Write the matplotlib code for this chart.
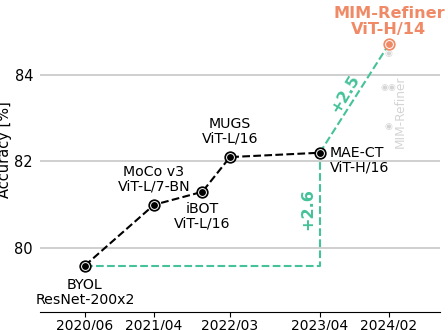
import numpy as np
import matplotlib.pyplot as plt

# --- data ---
methods = ["BYOL\nResNet-200x2", "MoCo v3\nViT-L/7-BN", "iBOT\nViT-L/16",
           "MUGS\nViT-L/16", "MAE-CT\nViT-H/16"]
dates = np.array(["2020-06", "2021-04", "2021-11", "2022-03", "2023-04"], dtype="datetime64[M]")
acc = [79.6, 81.0, 81.3, 82.1, 82.2]

ours_label = "MIM-Refiner\nViT-H/14"
ours_date = np.datetime64("2024-02", "M")
ours_acc = 84.7

tick_dates = np.array(["2020-06", "2021-04", "2022-03", "2023-04", "2024-02"], dtype="datetime64[M]")
tick_labels = ["2020/06", "2021/04", "2022/03", "2023/04", "2024/02"]

green = "#45c29a"
orange = "#f08a66"

# months since 2020-01 as x
base = np.datetime64("2020-01", "M")
x = (dates - base).astype(int)
x_ours = int((ours_date - base).astype(int))
x_ticks = (tick_dates - base).astype(int)

fig = plt.figure(figsize=(4.48, 3.3), dpi=100)
ax = fig.add_axes([40 / 448, 1 - 312 / 330, 400 / 448, 312 / 330])

ax.set_ylim(78.53, 85.72)
ax.set_xlim(x[0] - 6.5, x[0] + 51.4)
ax.set_yticks([80, 82, 84])
ax.grid(axis="y", color="#cccccc", linewidth=1.3)
ax.set_axisbelow(True)
for s in ["left", "right", "top"]:
    ax.spines[s].set_visible(False)
ax.tick_params(axis="y", length=0, labelsize=10.5, pad=5)
ax.tick_params(axis="x", length=3.5, pad=1.5)
ax.set_xticks(x_ticks)
ax.set_xticklabels(tick_labels, fontsize=10)
ax.set_ylabel("Accuracy [%]", fontsize=10.5, labelpad=3)
ax.yaxis.set_label_coords(-0.07, 0.52)

# green improvement lines
ax.plot([x[0], x[-1], x[-1]], [acc[0], acc[0], acc[-1]], color=green, ls="--", lw=1.5, zorder=2)
ax.plot([x[-1], x_ours], [acc[-1], ours_acc], color=green, ls="--", lw=1.5, zorder=2)

# black line of prior methods
ax.plot(x, acc, color="black", ls="--", lw=1.5, zorder=3)
ax.scatter(x, acc, s=62, color="black", zorder=4)
ax.scatter(x, acc, s=32, color="black", edgecolors="white", linewidths=0.7, zorder=5)
ax.scatter([x_ours], [ours_acc], s=62, color=orange, zorder=4)
ax.scatter([x_ours], [ours_acc], s=32, color=orange, edgecolors="white", linewidths=0.7, zorder=5)

# labels
fs = 10.2
ls = 1.1
ax.annotate(methods[0], (x[0], acc[0]), xytext=(0, -9), textcoords="offset points",
            ha="center", va="top", fontsize=fs, linespacing=ls)
ax.annotate(methods[1], (x[1], acc[1]), xytext=(0, 8), textcoords="offset points",
            ha="center", va="bottom", fontsize=fs, linespacing=ls)
ax.annotate(methods[2], (x[2], acc[2]), xytext=(0, -7), textcoords="offset points",
            ha="center", va="top", fontsize=fs, linespacing=ls)
ax.annotate(methods[3], (x[3], acc[3]), xytext=(0, 8), textcoords="offset points",
            ha="center", va="bottom", fontsize=fs, linespacing=ls)
ax.annotate(methods[4], (x[4], acc[4]), xytext=(7, 5), textcoords="offset points",
            ha="left", va="top", fontsize=fs, linespacing=ls)
ax.annotate(ours_label, (x_ours, ours_acc), xytext=(0, 5.5), textcoords="offset points",
            ha="center", va="bottom", fontsize=11.6, color=orange, fontweight="bold",
            linespacing=1.05)

# gain labels
ax.text(x[-1] - 1.7, (acc[0] + acc[-1]) / 2, f"+{acc[-1] - acc[0]:.1f}", rotation=90,
        ha="center", va="center", color=green, fontsize=11.5, fontweight="bold")
ax.text((x[-1] + x_ours) / 2 - 1.3, (acc[-1] + ours_acc) / 2 + 0.12, f"+{ours_acc - acc[-1]:.1f}",
        rotation=59, ha="center", va="center", color=green, fontsize=11.5, fontweight="bold")

# watermark
ax.text(0.90, 0.641, "MIM-Refiner", transform=ax.transAxes, rotation=90,
        ha="center", va="center", color="#d4d4d4", fontsize=8.7)
for xx, yy in [(0.87, 0.827), (0.862, 0.718), (0.879, 0.718), (0.87, 0.593)]:
    ax.text(xx, yy, "\u25c9", transform=ax.transAxes, ha="center", va="center",
            color="#d4d4d4", fontsize=6.5)

fig.savefig("out.png", dpi=100)
